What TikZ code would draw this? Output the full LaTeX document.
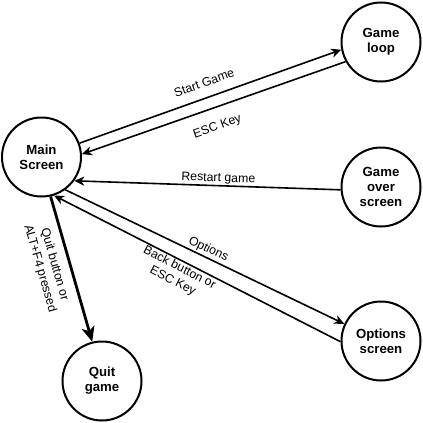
\documentclass[tikz,border=0pt]{standalone}
\usepackage{fontspec}
\setmainfont{Liberation Sans}
\usetikzlibrary{arrows.meta}
\begin{document}
\begin{tikzpicture}[x=1pt,y=-1pt,
  state/.style={circle, draw, line width=2pt, minimum size=79pt, inner sep=0pt,
    font=\bfseries\fontsize{13.2}{15}\selectfont, align=center},
  lbl/.style={font=\fontsize{12.3}{15}\selectfont, inner sep=0pt, sloped, align=center},
  conn/.style={line width=1.6pt, -{Stealth[length=10pt,width=9pt,inset=3pt]}},
  bigconn/.style={line width=2.8pt, -{Stealth[length=15pt,width=13pt,inset=4pt]}}]
\fill[white] (0,0) rectangle (423,423);
\useasboundingbox (0,0) rectangle (423,423);

\node[state] (main) at (41.5,157) {Main\\Screen};
\node[state] (loop) at (381,42) {Game\\loop};
\node[state] (over) at (381,187) {Game\\over\\screen};
\node[state] (opt) at (381,341) {Options\\screen};
\node[state] (quit) at (102,381) {Quit\\game};

\draw[conn] (main.20) -- node[lbl, pos=0.495, above=9.8pt] {Start Game} (loop.191);
\draw[conn] (loop.209) -- node[lbl, pos=0.51, below=13pt] {ESC Key} (main.4);
\draw[conn] (over.184) -- node[lbl, pos=0.46, above=0.7pt] {Restart game} (main.-36);
\draw[conn] (main.-54) -- node[lbl, pos=0.5, above=1.6pt] {Options} (opt.155);
\draw[conn] (opt.181) -- node[lbl, pos=0.55, below=1pt] {Back button or\\ESC Key} (main.-72);
\draw[bigconn] (main.-77) -- node[lbl, pos=0.44, below=8pt] {Quit button or\\ALT+F4 pressed} (quit.104);
\end{tikzpicture}
\end{document}
